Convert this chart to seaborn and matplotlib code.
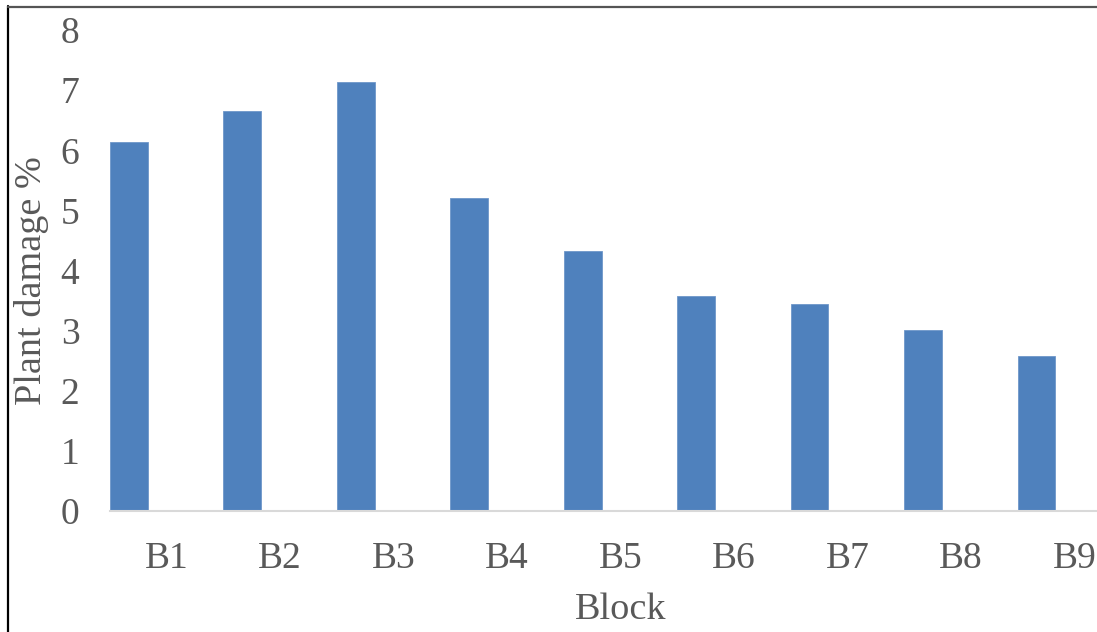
import matplotlib
matplotlib.use("Agg")
import matplotlib.pyplot as plt
from matplotlib.lines import Line2D
import seaborn as sns
import pandas as pd

# Plant damage (%) recorded in each block
blocks = ["B1", "B2", "B3", "B4", "B5", "B6", "B7", "B8", "B9"]
damage = [6.14, 6.66, 7.13, 5.20, 4.33, 3.58, 3.44, 3.01, 2.57]
series_levels = ["Damage", "Series 2", "Series 3"]
y_ticks = [0, 1, 2, 3, 4, 5, 6, 7, 8]

sns.set_theme(style="white")
plt.rcParams["font.family"] = ["Liberation Serif", "DejaVu Serif"]

text_color = "#595959"
bar_color = "#4F81BD"

df = pd.DataFrame({"Block": blocks, "Damage": damage, "Series": series_levels[0]})

fig = plt.figure(figsize=(10.97, 6.32), dpi=100)
W, H = 1097, 632
ax = fig.add_axes([110 / W, 1 - 511 / H, 1021 / W, 481 / H])

sns.barplot(
    data=df, x="Block", y="Damage", hue="Series", hue_order=series_levels,
    order=blocks, palette=[bar_color] * 3, width=1.0, dodge=True,
    gap=0, legend=False, errorbar=None, ax=ax, saturation=1.0,
    edgecolor="#6f97c9", linewidth=0.6,
)

ax.set_xlim(-0.5, len(blocks) - 0.5)
ax.set_ylim(0, 8)
ax.set_yticks(y_ticks)
ax.set_yticklabels([str(t) for t in y_ticks])

for side in ["top", "right", "left"]:
    ax.spines[side].set_visible(False)
ax.spines["bottom"].set_color("#d9d9d9")
ax.spines["bottom"].set_linewidth(1.5)

ax.tick_params(axis="y", length=0, pad=22, labelsize=27, labelcolor=text_color)
ax.tick_params(axis="x", length=0, pad=22, labelsize=27, labelcolor=text_color)
ax.set_xlabel("Block", fontsize=27.5, color=text_color, labelpad=12)
ax.set_ylabel("Plant damage %", fontsize=27.5, color=text_color, va="center")
ax.yaxis.set_label_coords(-79 / 1021, 0.478)
ax.grid(False)

# Frame around the chart area
fig.add_artist(Line2D([8 / W, 8 / W], [0, 1 - 6 / H], color="black", lw=1.6,
                      transform=fig.transFigure))
fig.add_artist(Line2D([8 / W, 1], [1 - 6.5 / H, 1 - 6.5 / H], color="#555555", lw=1.6,
                      transform=fig.transFigure))

fig.savefig("out.png", dpi=100, facecolor="white")
